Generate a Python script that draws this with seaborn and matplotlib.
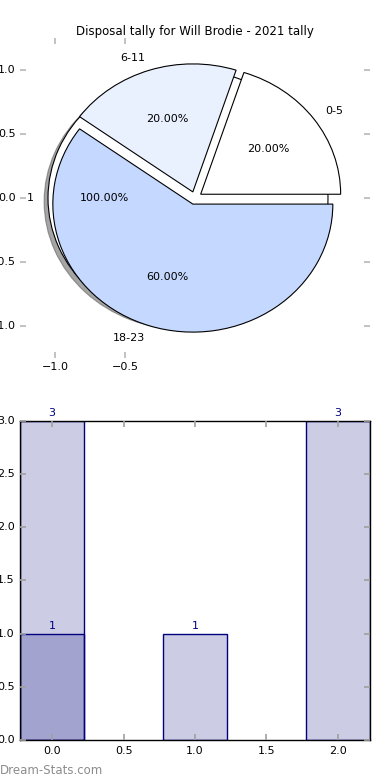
import matplotlib
matplotlib.use('Agg')
import matplotlib.pyplot as plt
import seaborn as sns

# Data
title = 'Disposal tally for Will Brodie - 2021 tally'
season_labels = ['1']            # background pie, a single full wedge
season_counts = [1]
range_labels = ['0-5', '6-11', '18-23']
range_counts = [1, 1, 3]
range_colours = ['#ffffff', '#eaf1fe', '#c5d8ff']

bar_x = [0, 1, 2]
bar_counts = [3, 1, 3]
overlay_x = [0]
overlay_counts = [1]

# Old matplotlib "classic" look
plt.style.use('classic')
plt.rcParams['font.family'] = ['DejaVu Sans']
plt.rcParams['font.size'] = 8
plt.rcParams['axes.autolimit_mode'] = 'data'
plt.rcParams['axes.xmargin'] = 0
plt.rcParams['axes.ymargin'] = 0

fig = plt.figure(figsize=(3.9, 7.8), dpi=100)
fig.patch.set_facecolor('white')

# Top: pie(s)
ax1 = fig.add_axes([0.0513, 0.541, 0.8974, 0.4103])
ax1.pie(season_counts, labels=season_labels, autopct='%1.2f%%', shadow=True,
        explode=[0.05], colors=['white'],
        wedgeprops=dict(edgecolor='black', linewidth=0.8),
        textprops=dict(fontsize=8))
ax1.pie(range_counts, labels=range_labels, autopct='%1.2f%%',
        explode=[0.05, 0.05, 0.05], colors=range_colours,
        wedgeprops=dict(edgecolor='black', linewidth=0.8),
        textprops=dict(fontsize=8))
ax1.set_aspect('auto')
ax1.set_xlim(-1.25, 1.25)
ax1.set_ylim(-1.25, 1.25)
ax1.set_frame_on(False)
ax1.set_xticks([-1.0, -0.5])
ax1.set_yticks([-1.0, -0.5, 0.0, 0.5, 1.0])
ax1.tick_params(top=True, right=True, labeltop=False, labelright=False,
                direction='in', color='#b8b8b8', width=1.2, length=4,
                labelsize=8, pad=3)
ax1.set_title(title, fontsize=8.5, pad=2)

# Bottom: bars
ax2 = fig.add_axes([0.0513, 0.0513, 0.8974, 0.409])
sns.barplot(x=bar_x, y=bar_counts, native_scale=True, width=0.45,
            errorbar=None, color='navy', saturation=1, ax=ax2)
sns.barplot(x=overlay_x, y=overlay_counts, native_scale=True, width=0.45,
            errorbar=None, color='navy', saturation=1, ax=ax2)
for p in ax2.patches:
    p.set_facecolor((0, 0, 0.5, 0.2))
    p.set_edgecolor('navy')
    p.set_linewidth(1.0)
for c in ax2.containers:
    ax2.bar_label(c, color='navy', fontsize=8, padding=2)
ax2.set_yticks([0.0, 0.5, 1.0, 1.5, 2.0, 2.5, 3.0])
ax2.set_xticks([0.0, 0.5, 1.0, 1.5, 2.0])
ax2.tick_params(top=True, right=True, direction='in', color='#a0a0a0',
                width=1.2, length=4, labelsize=8, pad=4)
for s in ax2.spines.values():
    s.set_linewidth(1.0)

fig.text(0.0, 0.004, 'Dream-Stats.com', color='#8c8c8c', fontsize=8.5,
         ha='left', va='bottom')

fig.savefig('out.png', dpi=100, facecolor='white')
